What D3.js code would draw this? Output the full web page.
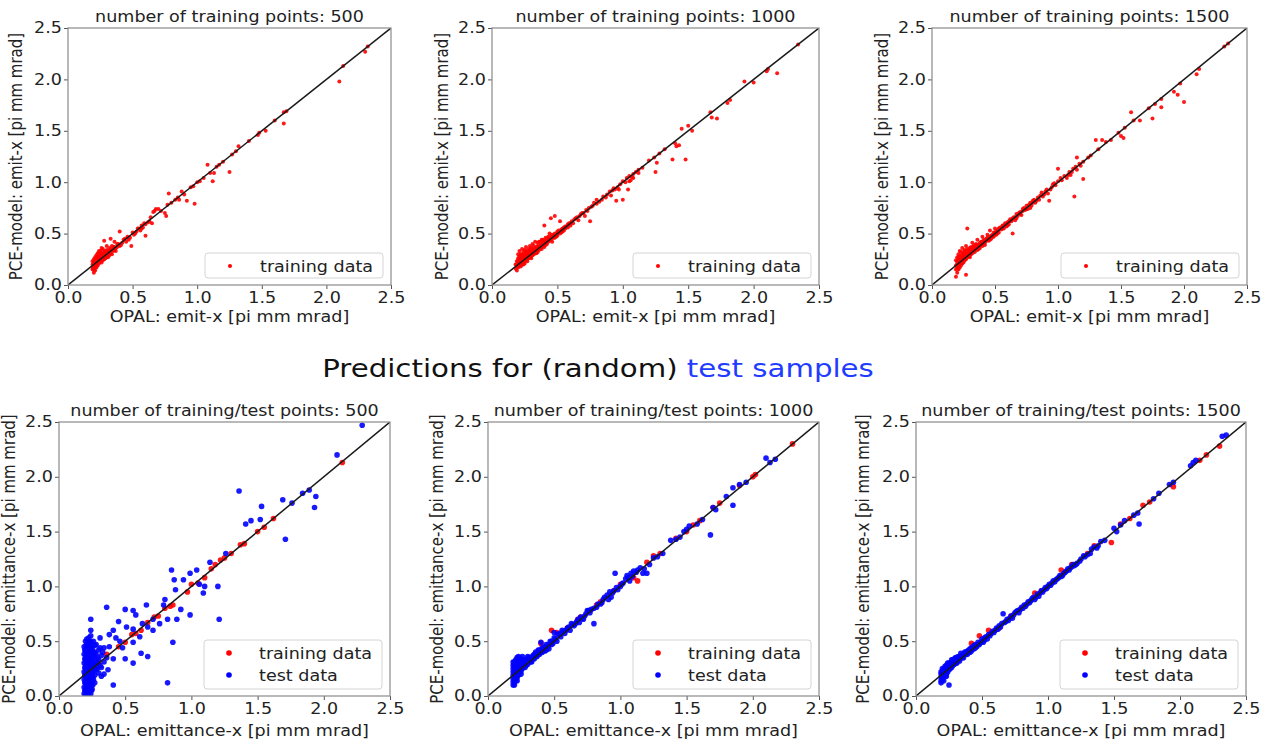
<!DOCTYPE html>
<html lang="en">
<head>
    <meta charset="UTF-8">
    <title>PCE model vs OPAL: emittance-x</title>
    <script src="https://d3js.org/d3.v7.min.js"></script>
    <style>
        body {
            margin: 0;
            background-color: #fff;
        }
        svg text {
            font-family: "DejaVu Sans", sans-serif;
            fill: #222;
        }
        .spine {
            fill: none;
            stroke: #8a8a8a;
            stroke-width: 1.2px;
        }
        .tick line {
            stroke: #555;
        }
    </style>
</head>
<body>
<svg id="chart"></svg>
<script>
// ---- data: [OPAL value, PCE value] ----
const ticks = [0, 0.5, 1.0, 1.5, 2.0, 2.5];

// top row: training points only
const train500 = [
    [0.19,0.15],[0.19,0.2],[0.2,0.12],[0.2,0.18],[0.2,0.22],[0.2,0.25],[0.21,0.14],[0.21,0.17],[0.21,0.21],[0.21,0.27],
    [0.22,0.2],[0.22,0.24],[0.22,0.29],[0.23,0.22],[0.23,0.26],[0.23,0.31],[0.24,0.21],[0.24,0.25],[0.24,0.28],[0.25,0.23],
    [0.25,0.27],[0.25,0.33],[0.26,0.25],[0.26,0.29],[0.26,0.31],[0.27,0.24],[0.27,0.28],[0.27,0.35],[0.28,0.27],[0.28,0.3],
    [0.29,0.26],[0.29,0.32],[0.3,0.29],[0.3,0.34],[0.31,0.3],[0.31,0.27],[0.32,0.33],[0.32,0.36],[0.33,0.31],[0.34,0.34],
    [0.34,0.3],[0.35,0.37],[0.36,0.34],[0.37,0.36],[0.38,0.4],[0.28,0.43],[0.33,0.45],[0.36,0.42],[0.4,0.52],[0.4,0.38],
    [0.42,0.41],[0.43,0.44],[0.45,0.42],[0.46,0.47],[0.48,0.46],[0.49,0.38],[0.5,0.51],[0.51,0.49],[0.53,0.52],[0.55,0.55],
    [0.56,0.53],[0.57,0.58],[0.58,0.56],[0.6,0.59],[0.6,0.48],[0.62,0.61],[0.64,0.66],[0.65,0.6],[0.66,0.71],[0.67,0.72],
    [0.68,0.74],[0.7,0.74],[0.72,0.72],[0.75,0.7],[0.76,0.67],[0.77,0.78],[0.78,0.89],[0.8,0.8],[0.83,0.83],[0.85,0.85],
    [0.86,0.83],[0.88,0.91],[0.9,0.88],[0.92,0.82],[0.95,0.95],[0.97,0.96],[0.98,0.79],[1.0,1.0],[1.02,1.01],[1.05,1.04],
    [1.08,1.17],[1.1,1.09],[1.12,1.01],[1.13,1.09],[1.15,1.15],[1.17,1.17],[1.2,1.2],[1.25,1.1],[1.27,1.27],[1.3,1.3],
    [1.32,1.35],[1.4,1.4],[1.47,1.46],[1.48,1.48],[1.53,1.5],[1.6,1.6],[1.67,1.57],[1.67,1.68],[1.69,1.69],[2.1,1.98],
    [2.13,2.13],[2.3,2.27],[2.32,2.32],
    [0.19,0.17],[0.19,0.23],[0.2,0.2],[0.2,0.15],[0.21,0.19],[0.21,0.24],[0.22,0.17],[0.22,0.22],[0.22,0.27],[0.23,0.19],
    [0.23,0.24],[0.23,0.28],[0.24,0.23],[0.24,0.3],[0.25,0.25],[0.25,0.3],[0.26,0.27],[0.26,0.22],[0.27,0.26],[0.27,0.31],
    [0.28,0.25],[0.28,0.33],[0.29,0.29],[0.3,0.27],[0.3,0.31],[0.31,0.33],[0.32,0.29],[0.33,0.34],[0.34,0.38],[0.35,0.33],
    [0.36,0.37],[0.37,0.33],[0.38,0.37],[0.39,0.4],[0.41,0.39],[0.44,0.45],[0.47,0.44],[0.52,0.5],[0.54,0.55],[0.57,0.55],
    [0.59,0.6],[0.63,0.62],[0.3,0.38],[0.26,0.36],[0.24,0.33]
];
const train1000 = [
    [0.18,0.16],[0.18,0.2],[0.19,0.14],[0.19,0.18],[0.19,0.23],[0.2,0.17],[0.2,0.21],[0.2,0.26],[0.2,0.3],[0.21,0.19],
    [0.21,0.23],[0.21,0.28],[0.21,0.33],[0.22,0.18],[0.22,0.22],[0.22,0.25],[0.22,0.3],[0.23,0.2],[0.23,0.24],[0.23,0.27],
    [0.23,0.35],[0.24,0.22],[0.24,0.26],[0.24,0.29],[0.24,0.32],[0.25,0.21],[0.25,0.25],[0.25,0.28],[0.25,0.34],[0.26,0.24],
    [0.26,0.27],[0.26,0.3],[0.26,0.37],[0.27,0.23],[0.27,0.28],[0.27,0.32],[0.28,0.26],[0.28,0.29],[0.28,0.35],[0.29,0.27],
    [0.29,0.31],[0.29,0.38],[0.3,0.26],[0.3,0.3],[0.3,0.33],[0.31,0.29],[0.31,0.32],[0.31,0.4],[0.32,0.3],[0.32,0.34],
    [0.33,0.31],[0.33,0.36],[0.33,0.42],[0.34,0.33],[0.34,0.37],[0.35,0.32],[0.35,0.35],[0.35,0.41],[0.36,0.34],[0.36,0.38],
    [0.37,0.36],[0.37,0.42],[0.38,0.35],[0.38,0.39],[0.39,0.38],[0.39,0.44],[0.4,0.37],[0.4,0.4],[0.4,0.58],[0.41,0.42],
    [0.42,0.4],[0.42,0.45],[0.43,0.42],[0.43,0.47],[0.44,0.43],[0.44,0.5],[0.45,0.44],[0.45,0.65],[0.46,0.46],[0.46,0.42],
    [0.47,0.48],[0.48,0.46],[0.48,0.67],[0.49,0.49],[0.5,0.48],[0.5,0.52],[0.51,0.51],[0.52,0.5],[0.52,0.62],[0.53,0.54],
    [0.54,0.52],[0.55,0.56],[0.56,0.55],[0.57,0.57],[0.58,0.56],[0.59,0.6],[0.6,0.58],[0.61,0.62],[0.63,0.64],[0.65,0.66],
    [0.66,0.63],[0.68,0.69],[0.7,0.7],[0.71,0.67],[0.72,0.73],[0.74,0.75],[0.75,0.62],[0.76,0.76],[0.78,0.8],[0.8,0.79],
    [0.82,0.81],[0.85,0.86],[0.87,0.85],[0.88,0.88],[0.9,0.91],[0.91,0.87],[0.93,0.94],[0.95,0.82],[0.96,0.95],[0.98,0.98],
    [1.0,0.83],[1.0,1.01],[1.02,1.0],[1.04,0.93],[1.05,1.06],[1.07,1.05],[1.1,1.1],[1.12,1.09],[1.15,1.14],[1.2,1.21],
    [1.24,1.24],[1.25,1.1],[1.26,1.19],[1.28,1.28],[1.32,1.32],[1.38,1.22],[1.4,1.38],[1.41,1.35],[1.43,1.36],[1.45,1.52],
    [1.48,1.22],[1.5,1.55],[1.53,1.5],[1.67,1.68],[1.68,1.63],[1.72,1.62],[1.8,1.77],[1.82,1.8],[1.93,1.98],[2.0,1.97],
    [2.1,2.08],[2.11,2.1],[2.18,2.06],[2.34,2.34],
    [0.19,0.2],[0.2,0.19],[0.2,0.24],[0.21,0.21],[0.21,0.26],[0.22,0.2],[0.22,0.27],[0.23,0.22],[0.23,0.3],[0.24,0.24],
    [0.24,0.2],[0.25,0.23],[0.25,0.3],[0.26,0.26],[0.26,0.33],[0.27,0.25],[0.27,0.3],[0.28,0.28],[0.28,0.32],[0.29,0.29],
    [0.29,0.34],[0.3,0.28],[0.3,0.36],[0.31,0.31],[0.31,0.35],[0.32,0.32],[0.32,0.38],[0.33,0.34],[0.34,0.35],[0.34,0.31],
    [0.35,0.38],[0.36,0.36],[0.36,0.42],[0.37,0.39],[0.38,0.37],[0.38,0.44],[0.39,0.41],[0.4,0.43],[0.41,0.39],[0.41,0.46],
    [0.42,0.42],[0.43,0.44],[0.44,0.46],[0.45,0.47],[0.46,0.49],[0.47,0.46],[0.48,0.5],[0.49,0.47],[0.5,0.5],[0.51,0.53],
    [0.53,0.51],[0.54,0.55],[0.55,0.53],[0.56,0.57],[0.58,0.59],[0.6,0.6],[0.62,0.6],[0.64,0.65],[0.67,0.67],[0.69,0.7],
    [0.73,0.72],[0.77,0.77],[0.8,0.83],[0.84,0.83],[0.92,0.92],[0.94,0.93],[0.97,0.93],[1.03,1.04],[1.06,1.02],[1.08,1.08],
    [1.12,1.12],[1.05,1.01],[1.08,1.04]
];
const train1500 = [
    [0.19,0.08],[0.19,0.15],[0.19,0.19],[0.19,0.24],[0.2,0.12],[0.2,0.17],[0.2,0.21],[0.2,0.27],[0.21,0.15],[0.21,0.19],
    [0.21,0.23],[0.21,0.3],[0.22,0.17],[0.22,0.21],[0.22,0.25],[0.22,0.33],[0.23,0.19],[0.23,0.23],[0.23,0.28],[0.24,0.21],
    [0.24,0.25],[0.24,0.3],[0.24,0.36],[0.25,0.22],[0.25,0.27],[0.25,0.32],[0.26,0.24],[0.26,0.28],[0.26,0.34],[0.27,0.1],
    [0.27,0.25],[0.27,0.3],[0.27,0.38],[0.28,0.55],[0.28,0.27],[0.28,0.31],[0.29,0.28],[0.29,0.34],[0.3,0.27],[0.3,0.31],
    [0.3,0.36],[0.31,0.3],[0.31,0.34],[0.32,0.31],[0.32,0.36],[0.32,0.41],[0.33,0.33],[0.33,0.38],[0.34,0.32],[0.34,0.36],
    [0.35,0.35],[0.35,0.4],[0.36,0.34],[0.36,0.39],[0.36,0.44],[0.37,0.37],[0.38,0.36],[0.38,0.41],[0.39,0.39],[0.4,0.38],
    [0.4,0.42],[0.4,0.47],[0.41,0.41],[0.42,0.43],[0.42,0.39],[0.43,0.45],[0.44,0.44],[0.44,0.49],[0.45,0.43],[0.46,0.47],
    [0.46,0.53],[0.47,0.45],[0.48,0.49],[0.49,0.47],[0.5,0.51],[0.5,0.55],[0.51,0.49],[0.52,0.53],[0.53,0.51],[0.54,0.56],
    [0.55,0.54],[0.56,0.58],[0.57,0.55],[0.58,0.6],[0.59,0.57],[0.6,0.61],[0.61,0.59],[0.62,0.64],[0.63,0.62],[0.64,0.5],
    [0.65,0.66],[0.66,0.63],[0.67,0.69],[0.68,0.67],[0.7,0.71],[0.71,0.68],[0.72,0.74],[0.74,0.73],[0.75,0.77],[0.76,0.74],
    [0.78,0.8],[0.79,0.77],[0.8,0.82],[0.82,0.8],[0.84,0.85],[0.85,0.83],[0.87,0.9],[0.88,0.86],[0.9,0.91],[0.92,0.89],
    [0.93,0.82],[0.95,0.95],[0.96,0.98],[0.98,0.97],[1.0,1.13],[1.0,1.01],[1.03,1.02],[1.05,1.06],[1.07,1.04],[1.09,1.1],
    [1.1,1.07],[1.12,1.13],[1.13,0.86],[1.14,1.15],[1.15,1.24],[1.17,1.18],[1.2,1.03],[1.2,1.2],[1.24,1.24],[1.26,1.26],
    [1.3,1.41],[1.32,1.32],[1.35,1.41],[1.38,1.39],[1.42,1.41],[1.48,1.48],[1.5,1.45],[1.52,1.43],[1.53,1.53],[1.58,1.68],
    [1.6,1.6],[1.65,1.6],[1.72,1.72],[1.75,1.62],[1.77,1.76],[1.82,1.73],[1.82,1.81],[1.92,1.88],[1.95,1.85],[1.97,1.96],
    [2.0,1.78],[2.1,2.05],[2.12,2.1],[2.32,2.32],[2.35,2.35],
    [0.2,0.23],[0.21,0.26],[0.21,0.17],[0.22,0.23],[0.22,0.28],[0.23,0.21],[0.23,0.26],[0.23,0.32],[0.24,0.23],[0.24,0.28],
    [0.25,0.25],[0.25,0.29],[0.26,0.26],[0.26,0.31],[0.27,0.28],[0.27,0.33],[0.28,0.29],[0.28,0.35],[0.29,0.31],[0.3,0.29],
    [0.3,0.33],[0.31,0.32],[0.31,0.37],[0.32,0.34],[0.33,0.35],[0.34,0.34],[0.34,0.39],[0.35,0.37],[0.36,0.36],[0.37,0.39],
    [0.37,0.35],[0.38,0.39],[0.39,0.42],[0.4,0.4],[0.41,0.44],[0.42,0.41],[0.43,0.43],[0.44,0.46],[0.45,0.45],[0.46,0.44],
    [0.47,0.48],[0.48,0.47],[0.49,0.51],[0.5,0.49],[0.51,0.52],[0.52,0.5],[0.53,0.55],[0.55,0.56],[0.56,0.55],[0.57,0.58],
    [0.59,0.59],[0.6,0.58],[0.61,0.62],[0.63,0.63],[0.64,0.65],[0.66,0.66],[0.67,0.65],[0.69,0.7],[0.7,0.69],[0.72,0.72],
    [0.73,0.75],[0.75,0.74],[0.77,0.78],[0.78,0.75],[0.8,0.8],[0.81,0.83],[0.83,0.82],[0.86,0.87],[0.89,0.88],[0.91,0.93],
    [0.94,0.93],[0.97,0.99],[1.02,1.04],[1.08,1.07],[1.11,1.1],[1.15,1.12],[1.18,1.16]
];

// bottom row: training points (red) and test points (blue)
const cmpTrain500 = [
    [0.22,0.22],[0.25,0.26],[0.3,0.3],[0.36,0.38],[0.45,0.45],[0.5,0.49],[0.55,0.56],[0.58,0.57],[0.62,0.6],[0.67,0.67],
    [0.72,0.72],[0.75,0.73],[0.8,0.8],[0.84,0.82],[0.86,0.83],[0.97,0.95],[1.0,1.02],[1.05,1.03],[1.1,1.08],[1.15,1.16],
    [1.18,1.2],[1.22,1.24],[1.25,1.26],[1.3,1.3],[1.37,1.38],[1.4,1.39],[1.5,1.5],[1.55,1.54],[1.62,1.62],[2.14,2.13]
];
const cmpTest500 = [
    [0.19,0.02],[0.19,0.08],[0.19,0.15],[0.19,0.22],[0.19,0.3],[0.19,0.38],[0.19,0.45],
    [0.2,0.0],[0.2,0.05],[0.2,0.12],[0.2,0.18],[0.2,0.25],[0.2,0.33],[0.2,0.41],[0.2,0.5],
    [0.21,0.03],[0.21,0.1],[0.21,0.17],[0.21,0.24],[0.21,0.31],[0.21,0.37],[0.21,0.44],[0.21,0.52],
    [0.22,0.01],[0.22,0.07],[0.22,0.14],[0.22,0.2],[0.22,0.27],[0.22,0.35],[0.22,0.42],[0.22,0.48],
    [0.23,0.04],[0.23,0.11],[0.23,0.19],[0.23,0.26],[0.23,0.34],[0.23,0.4],[0.23,0.47],
    [0.24,0.02],[0.24,0.09],[0.24,0.16],[0.24,0.23],[0.24,0.3],[0.24,0.38],[0.24,0.45],[0.24,0.55],
    [0.25,0.06],[0.25,0.13],[0.25,0.21],[0.25,0.28],[0.25,0.36],[0.25,0.43],
    [0.26,0.15],[0.26,0.22],[0.26,0.3],[0.26,0.4],[0.27,0.19],[0.27,0.27],[0.27,0.35],[0.27,0.46],
    [0.28,0.24],[0.28,0.3],[0.28,0.38],[0.3,0.21],[0.3,0.33],[0.3,0.42],[0.32,0.26],[0.32,0.37],
    [0.34,0.2],[0.34,0.31],[0.34,0.44],[0.36,0.35],
    [0.195,0.05],[0.195,0.12],[0.195,0.19],[0.195,0.26],[0.195,0.34],[0.195,0.42],[0.205,0.08],[0.205,0.15],[0.205,0.22],
    [0.205,0.29],[0.205,0.37],[0.205,0.46],[0.215,0.06],[0.215,0.13],[0.215,0.2],[0.215,0.28],[0.215,0.34],[0.215,0.4],
    [0.215,0.48],[0.225,0.04],[0.225,0.1],[0.225,0.17],[0.225,0.24],[0.225,0.31],[0.225,0.38],[0.225,0.45],[0.225,0.53],
    [0.235,0.07],[0.235,0.15],[0.235,0.22],[0.235,0.29],[0.235,0.37],[0.235,0.43],[0.235,0.5],[0.245,0.05],[0.245,0.12],
    [0.245,0.19],[0.245,0.26],[0.245,0.33],[0.245,0.41],[0.245,0.49],[0.255,0.1],[0.255,0.17],[0.255,0.24],[0.255,0.32],
    [0.255,0.39],[0.27,0.12],[0.27,0.4],[0.29,0.25],[0.29,0.35],[0.31,0.28],[0.31,0.44],[0.26,0.5],[0.28,0.47],
    [2.29,2.47],[2.1,2.2],[1.36,1.87],[1.69,1.79],[1.76,1.76],[1.84,1.85],[1.89,1.88],[1.94,1.82],[1.93,1.72],[1.71,1.43],
    [1.53,1.73],[1.41,1.57],[1.45,1.6],[1.52,1.61],[1.26,1.3],[1.14,1.22],[1.2,1.0],[1.21,0.7],[1.1,1.0],[1.09,0.94],
    [1.06,1.02],[1.04,1.15],[0.99,1.12],[0.94,1.06],[0.85,1.15],[0.87,1.06],[0.88,0.97],[0.8,0.88],[0.79,0.83],[0.92,0.79],
    [0.99,0.74],[0.89,0.7],[0.86,0.49],[0.82,0.12],[0.36,0.81],[0.66,0.83],[0.56,0.78],[0.5,0.79],[0.58,0.74],[0.63,0.66],
    [0.45,0.68],[0.51,0.63],[0.56,0.61],[0.67,0.63],[0.71,0.7],[0.76,0.66],[0.82,0.7],[0.71,0.6],[0.24,0.7],[0.24,0.6],
    [0.31,0.53],[0.41,0.6],[0.38,0.56],[0.43,0.53],[0.48,0.44],[0.5,0.34],[0.56,0.3],[0.62,0.39],[0.67,0.36],[0.41,0.1],
    [0.32,0.18],[0.37,0.24],[0.28,0.3],[0.41,0.34],[0.56,0.49],[0.61,0.54],[0.46,0.5],[0.38,0.45],[0.33,0.4]
];
const cmpTrain1000 = [
    [0.4,0.48],[0.48,0.6],[0.52,0.58],[0.6,0.62],[0.68,0.7],[0.7,0.72],[0.77,0.78],[0.82,0.83],[0.85,0.86],[0.95,0.96],
    [1.0,1.02],[1.1,1.08],[1.13,1.05],[1.2,1.22],[1.25,1.28],[1.3,1.3],[1.42,1.44],[1.5,1.5],[1.55,1.56],[1.6,1.6],
    [1.7,1.72],[1.75,1.76],[1.9,1.92],[2.0,2.0],[2.02,2.02],[2.3,2.3]
];
const cmpTest1000 = [
    [0.19,0.1],[0.19,0.16],[0.19,0.22],[0.19,0.28],[0.2,0.13],[0.2,0.19],[0.2,0.25],[0.2,0.31],[0.21,0.17],[0.21,0.22],
    [0.21,0.3],[0.22,0.14],[0.22,0.2],[0.22,0.26],[0.22,0.35],[0.23,0.19],[0.23,0.24],[0.23,0.33],[0.24,0.22],[0.24,0.28],
    [0.25,0.2],[0.25,0.26],[0.25,0.31],[0.26,0.25],[0.26,0.36],[0.27,0.27],[0.27,0.32],[0.28,0.26],[0.28,0.3],[0.29,0.33],
    [0.3,0.29],[0.3,0.36],[0.31,0.32],[0.32,0.35],[0.33,0.31],[0.34,0.37],[0.35,0.34],[0.36,0.4],[0.37,0.36],[0.38,0.42],
    [0.39,0.38],[0.4,0.49],[0.41,0.4],[0.42,0.44],[0.43,0.41],[0.44,0.47],[0.45,0.45],[0.46,0.43],[0.47,0.5],[0.48,0.47],
    [0.5,0.53],[0.5,0.58],[0.52,0.5],[0.53,0.56],[0.55,0.54],[0.56,0.6],[0.58,0.57],[0.6,0.62],[0.62,0.6],[0.63,0.66],
    [0.65,0.64],[0.67,0.68],[0.69,0.67],[0.7,0.72],[0.72,0.7],[0.74,0.75],[0.75,0.78],[0.77,0.76],[0.8,0.66],[0.8,0.8],
    [0.82,0.81],[0.85,0.84],[0.87,0.88],[0.9,0.92],[0.91,0.88],[0.92,0.95],[0.93,0.9],[0.95,0.96],[0.96,1.12],[0.98,0.97],
    [1.0,1.0],[1.02,1.03],[1.04,1.07],[1.05,1.1],[1.07,1.05],[1.08,1.12],[1.1,1.14],[1.12,1.13],[1.15,1.17],[1.2,1.12],
    [1.22,1.2],[1.25,1.26],[1.28,1.27],[1.32,1.3],[1.38,1.42],[1.42,1.43],[1.45,1.45],[1.48,1.5],[1.5,1.52],[1.52,1.55],
    [1.58,1.57],[1.62,1.61],[1.68,1.47],[1.7,1.72],[1.72,1.7],[1.8,1.82],[1.85,1.74],[1.85,1.9],[1.9,1.93],[1.95,1.95],
    [2.1,2.17],[2.13,2.13],[2.17,2.16],
    [0.19,0.13],[0.19,0.19],[0.19,0.25],[0.19,0.31],[0.2,0.16],[0.2,0.22],[0.2,0.28],[0.2,0.1],[0.21,0.14],[0.21,0.2],
    [0.21,0.26],[0.21,0.33],[0.22,0.17],[0.22,0.23],[0.22,0.3],[0.23,0.21],[0.23,0.27],[0.23,0.36],[0.24,0.25],[0.24,0.31],
    [0.25,0.23],[0.25,0.29],[0.25,0.34],[0.26,0.28],[0.26,0.31],[0.27,0.3],[0.28,0.33],[0.29,0.28],[0.29,0.31],[0.3,0.32],
    [0.31,0.35],[0.32,0.31],[0.33,0.35],[0.34,0.34],[0.35,0.38],[0.36,0.36],[0.37,0.39],[0.38,0.38],[0.39,0.42],[0.4,0.4],
    [0.41,0.44],[0.43,0.45],[0.44,0.42],[0.46,0.47],[0.48,0.5],[0.49,0.48],[0.51,0.52],[0.54,0.57],[0.57,0.59],[0.59,0.6],
    [0.61,0.63],[0.64,0.65],[0.66,0.66],[0.68,0.7],[0.71,0.71],[0.73,0.73],[0.76,0.78],[0.78,0.79],[0.83,0.84],[0.86,0.85],
    [0.88,0.9],[0.94,0.94],[0.97,0.99],[1.01,1.02],[1.06,1.08],[1.09,1.09],[1.13,1.15],[1.17,1.12],[1.18,1.16]
];
const cmpTrain1500 = [
    [0.42,0.48],[0.48,0.55],[0.55,0.6],[0.63,0.62],[0.72,0.73],[0.9,0.94],[0.95,0.96],[1.1,1.15],[1.18,1.2],[1.3,1.3],
    [1.35,1.37],[1.48,1.4],[1.55,1.57],[1.62,1.62],[1.72,1.74],[1.77,1.77],[1.95,1.91],[2.15,2.15],[2.2,2.2],[2.3,2.28]
];
const cmpTest1500 = [
    [0.19,0.12],[0.19,0.17],[0.19,0.22],[0.2,0.15],[0.2,0.19],[0.2,0.25],[0.21,0.14],[0.21,0.2],[0.21,0.24],[0.22,0.18],
    [0.22,0.22],[0.22,0.27],[0.23,0.2],[0.23,0.25],[0.24,0.22],[0.24,0.27],[0.24,0.3],[0.25,0.1],[0.25,0.24],[0.25,0.28],
    [0.26,0.25],[0.26,0.3],[0.27,0.26],[0.27,0.31],[0.28,0.28],[0.28,0.33],[0.29,0.29],[0.29,0.34],[0.3,0.3],[0.3,0.35],
    [0.31,0.32],[0.32,0.33],[0.32,0.36],[0.33,0.34],[0.34,0.36],[0.34,0.39],[0.35,0.35],[0.36,0.38],[0.37,0.4],[0.38,0.38],
    [0.39,0.41],[0.4,0.42],[0.41,0.4],[0.42,0.44],[0.43,0.45],[0.44,0.43],[0.45,0.47],[0.46,0.45],[0.47,0.49],[0.48,0.47],
    [0.5,0.5],[0.51,0.49],[0.52,0.53],[0.54,0.52],[0.55,0.56],[0.57,0.57],[0.58,0.59],[0.6,0.6],[0.62,0.61],[0.63,0.64],
    [0.65,0.66],[0.66,0.75],[0.67,0.67],[0.69,0.7],[0.7,0.69],[0.72,0.73],[0.74,0.74],[0.75,0.76],[0.77,0.78],[0.78,0.76],
    [0.8,0.81],[0.82,0.83],[0.83,0.82],[0.85,0.86],[0.87,0.87],[0.88,0.89],[0.9,0.88],[0.92,0.93],[0.93,0.91],[0.95,0.96],
    [0.97,0.97],[0.98,0.99],[1.0,1.0],[1.02,1.01],[1.04,1.05],[1.06,1.06],[1.08,1.08],[1.1,1.09],[1.12,1.12],[1.14,1.14],
    [1.16,1.15],[1.18,1.18],[1.2,1.19],[1.22,1.21],[1.25,1.25],[1.28,1.27],[1.32,1.3],[1.35,1.36],[1.38,1.37],[1.4,1.41],
    [1.43,1.42],[1.5,1.53],[1.52,1.5],[1.55,1.56],[1.58,1.6],[1.65,1.65],[1.68,1.67],[1.69,1.57],[1.8,1.8],[1.84,1.85],
    [1.92,1.93],[1.95,1.95],[2.08,2.1],[2.1,2.13],[2.12,2.15],[2.32,2.37],[2.35,2.38],
    [0.19,0.14],[0.19,0.2],[0.2,0.17],[0.2,0.22],[0.21,0.17],[0.21,0.22],[0.22,0.2],[0.22,0.25],[0.23,0.18],[0.23,0.23],
    [0.23,0.28],[0.24,0.25],[0.25,0.26],[0.25,0.3],[0.26,0.27],[0.27,0.28],[0.27,0.33],[0.28,0.3],[0.29,0.31],[0.3,0.32],
    [0.31,0.3],[0.31,0.35],[0.33,0.36],[0.33,0.32],[0.35,0.37],[0.36,0.35],[0.37,0.38],[0.38,0.4],[0.39,0.38],[0.4,0.4],
    [0.41,0.43],[0.42,0.41],[0.44,0.46],[0.45,0.44],[0.47,0.47],[0.49,0.49],[0.5,0.52],[0.52,0.51],[0.53,0.54],[0.56,0.55],
    [0.59,0.58],[0.61,0.62],[0.64,0.63],[0.68,0.68],[0.71,0.71],[0.73,0.71],[0.76,0.77],[0.79,0.79],[0.81,0.8],[0.84,0.84],
    [0.86,0.85],[0.89,0.9],[0.91,0.9],[0.94,0.94],[0.96,0.95],[0.99,0.98],[1.01,1.02],[1.03,1.03],[1.05,1.04],[1.07,1.07],
    [1.09,1.1],[1.11,1.1],[1.13,1.13],[1.15,1.16],[1.17,1.17],[1.19,1.2],[1.21,1.2],[1.24,1.23],[1.27,1.28],[1.3,1.29],
    [1.33,1.34],[1.37,1.35]
];

const topTitles = ["number of training points: 500", "number of training points: 1000", "number of training points: 1500"];
const bottomTitles = ["number of training/test points: 500", "number of training/test points: 1000", "number of training/test points: 1500"];

// ---- layout ----
const W = 1265, H = 743;
const SX = 1.17; // the source picture is stretched horizontally
const RED = "#ff0000", BLUE = "#0000ff";

const svg = d3.select("#chart").attr("width", W).attr("height", H);

const panels = [
    {l: 68,  t: 28,  r: 391,  b: 285, title: topTitles[0], xl: "OPAL: emit-x [pi mm mrad]", yl: "PCE-model: emit-x [pi mm mrad]",
     series: [{name: "training data", data: train500, color: RED}], rad: 2, xlOff: 37, ylOff: 46},
    {l: 492, t: 28,  r: 819,  b: 285, title: topTitles[1], xl: "OPAL: emit-x [pi mm mrad]", yl: "PCE-model: emit-x [pi mm mrad]",
     series: [{name: "training data", data: train1000, color: RED}], rad: 2, xlOff: 37, ylOff: 44},
    {l: 932, t: 28,  r: 1247, b: 285, title: topTitles[2], xl: "OPAL: emit-x [pi mm mrad]", yl: "PCE-model: emit-x [pi mm mrad]",
     series: [{name: "training data", data: train1500, color: RED}], rad: 2, xlOff: 37, ylOff: 44},
    {l: 59,  t: 422, r: 390,  b: 696, title: bottomTitles[0], xl: "OPAL: emittance-x [pi mm mrad]", yl: "PCE-model: emittance-x [pi mm mrad]",
     series: [{name: "training data", data: cmpTrain500, color: RED}, {name: "test data", data: cmpTest500, color: BLUE}], rad: 2.8, xlOff: 40, ylOff: 44},
    {l: 488, t: 422, r: 819,  b: 696, title: bottomTitles[1], xl: "OPAL: emittance-x [pi mm mrad]", yl: "PCE-model: emittance-x [pi mm mrad]",
     series: [{name: "training data", data: cmpTrain1000, color: RED}, {name: "test data", data: cmpTest1000, color: BLUE}], rad: 2.8, xlOff: 40, ylOff: 45},
    {l: 916, t: 422, r: 1246, b: 696, title: bottomTitles[2], xl: "OPAL: emittance-x [pi mm mrad]", yl: "PCE-model: emittance-x [pi mm mrad]",
     series: [{name: "training data", data: cmpTrain1500, color: RED}, {name: "test data", data: cmpTest1500, color: BLUE}], rad: 2.8, xlOff: 40, ylOff: 47}
];

// text helper: stretched horizontally like the source image
function label(g, x, y, str, size, anchor, rotate) {
    return g.append("text")
        .attr("transform", `translate(${x},${y}) scale(${SX},1)` + (rotate ? " rotate(-90)" : ""))
        .attr("text-anchor", anchor)
        .style("font-size", size + "px")
        .text(str);
}

panels.forEach(p => {
    const g = svg.append("g");
    const x = d3.scaleLinear().domain([0, 2.5]).range([p.l, p.r]);
    const y = d3.scaleLinear().domain([0, 2.5]).range([p.b, p.t]);

    // points (clipped to plot area)
    const clipId = "clip" + p.l + "_" + p.t;
    g.append("clipPath").attr("id", clipId)
        .append("rect").attr("x", p.l).attr("y", p.t).attr("width", p.r - p.l).attr("height", p.b - p.t);
    const plot = g.append("g").attr("clip-path", `url(#${clipId})`);

    p.series.forEach(s => {
        plot.append("g").selectAll("circle")
            .data(s.data)
            .join("circle")
            .attr("cx", d => x(d[0]))
            .attr("cy", d => y(d[1]))
            .attr("r", p.rad)
            .attr("fill", s.color)
            .attr("opacity", 0.9);
    });

    // diagonal reference line
    plot.append("line")
        .attr("x1", x(0)).attr("y1", y(0))
        .attr("x2", x(2.5)).attr("y2", y(2.5))
        .attr("stroke", "#1a1a1a")
        .attr("stroke-width", 1.5);

    // axes
    const xAxis = g.append("g").attr("transform", `translate(0,${p.b})`)
        .call(d3.axisBottom(x).tickValues(ticks).tickFormat(d3.format(".1f")).tickSize(4).tickPadding(3));
    const yAxis = g.append("g").attr("transform", `translate(${p.l},0)`)
        .call(d3.axisLeft(y).tickValues(ticks).tickFormat(d3.format(".1f")).tickSize(4).tickPadding(3));
    [xAxis, yAxis].forEach(a => {
        a.select(".domain").remove();
        a.selectAll("text").style("font-size", "15px").style("font-family", "DejaVu Sans, sans-serif").attr("fill", "#222");
    });
    xAxis.selectAll("text").attr("transform", `scale(${SX},1)`);
    yAxis.selectAll("text").attr("x", -6 / SX).attr("transform", `scale(${SX},1)`);

    g.append("rect").attr("class", "spine")
        .attr("x", p.l).attr("y", p.t)
        .attr("width", p.r - p.l).attr("height", p.b - p.t);

    // titles and axis labels
    label(g, (p.l + p.r) / 2, p.t - 6, p.title, 15, "middle");
    label(g, (p.l + p.r) / 2, p.b + p.xlOff, p.xl, 15, "middle");
    label(g, p.l - p.ylOff, (p.t + p.b) / 2, p.yl, 15, "middle", true);

    // legend
    const rows = p.series.length;
    const lw = 178, lh = rows === 1 ? 25 : 49;
    const lx = p.r - 8 - lw, ly = p.b - 7 - lh;
    const leg = g.append("g");
    leg.append("rect")
        .attr("x", lx).attr("y", ly).attr("width", lw).attr("height", lh)
        .attr("rx", 3)
        .attr("fill", "#fff").attr("fill-opacity", 0.85)
        .attr("stroke", "#d4d4d4");
    p.series.forEach((s, i) => {
        const cy = ly + 13 + i * 22;
        leg.append("circle").attr("cx", lx + 25).attr("cy", cy).attr("r", p.rad).attr("fill", s.color);
        label(leg, lx + 55, cy + 5.5, s.name, 15, "start");
    });
});

// middle heading
const head = svg.append("text")
    .attr("transform", `translate(598,377) scale(${SX},1)`)
    .attr("text-anchor", "middle")
    .style("font-size", "25px");
head.append("tspan").attr("fill", "#111").text("Predictions for (random) ");
head.append("tspan").attr("fill", "#1f3cff").style("fill", "#1f3cff").text("test samples");
</script>
</body>
</html>
